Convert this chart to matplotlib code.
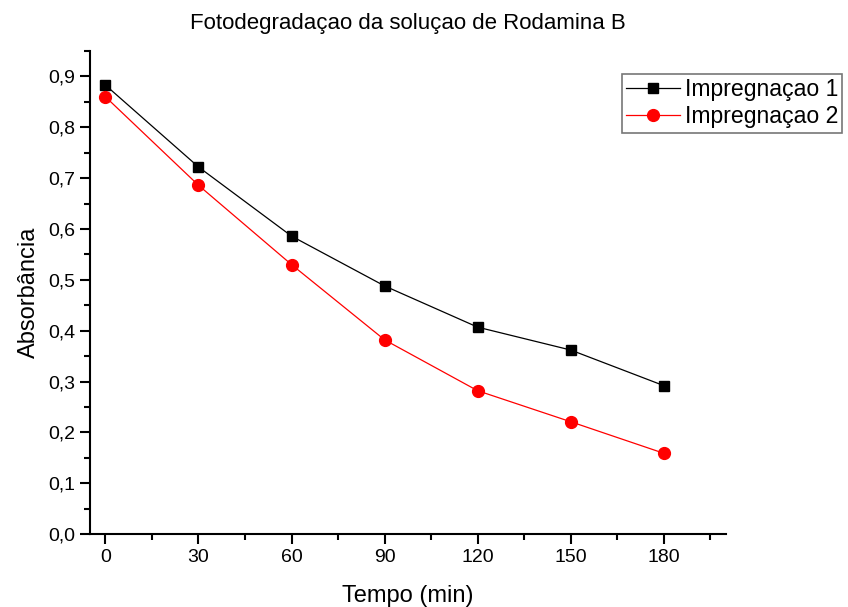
import matplotlib.pyplot as plt
from matplotlib.ticker import MultipleLocator, FuncFormatter

plt.rcParams['font.family'] = ['Liberation Sans', 'DejaVu Sans']

tempo = [0, 30, 60, 90, 120, 150, 180]
impreg1 = [0.883, 0.722, 0.586, 0.488, 0.407, 0.362, 0.292]
impreg2 = [0.860, 0.686, 0.530, 0.382, 0.282, 0.221, 0.159]

fig = plt.figure(figsize=(8.48, 6.07), dpi=100)
ax = fig.add_axes([0.106, 0.12, 0.75, 0.796])

ax.plot(tempo, impreg1, color='black', lw=0.9, marker='s', ms=7.5, label='Impregnaçao 1')
ax.plot(tempo, impreg2, color='red', lw=0.9, marker='o', ms=8.5, label='Impregnaçao 2')

ax.set_xlim(-5, 200)
ax.set_ylim(0, 0.95)
ax.xaxis.set_major_locator(MultipleLocator(30))
ax.xaxis.set_minor_locator(MultipleLocator(15))
ax.yaxis.set_major_locator(MultipleLocator(0.1))
ax.yaxis.set_minor_locator(MultipleLocator(0.05))
ax.yaxis.set_major_formatter(FuncFormatter(lambda v, p: f'{v:.1f}'.replace('.', ',')))

for s in ['top', 'right']:
    ax.spines[s].set_visible(False)
for s in ['left', 'bottom']:
    ax.spines[s].set_linewidth(1.5)
ax.tick_params(which='major', direction='out', length=7, width=1.5, labelsize=14)
ax.tick_params(which='minor', direction='out', length=4, width=1.5)

ax.set_xlabel('Tempo (min)', fontsize=17, labelpad=14)
ax.set_ylabel('Absorbância', fontsize=17, labelpad=6)
ax.set_title('Fotodegradaçao da soluçao de Rodamina B', fontsize=16, pad=16)

leg = ax.legend(loc='upper left', bbox_to_anchor=(0.836, 0.953), fontsize=16.6,
                frameon=True, fancybox=False, edgecolor='#555555',
                borderpad=0.18, handlelength=2.35, handletextpad=0.2,
                labelspacing=0.2, borderaxespad=0)
leg.get_frame().set_linewidth(1.2)

fig.savefig('out.png', dpi=100)
